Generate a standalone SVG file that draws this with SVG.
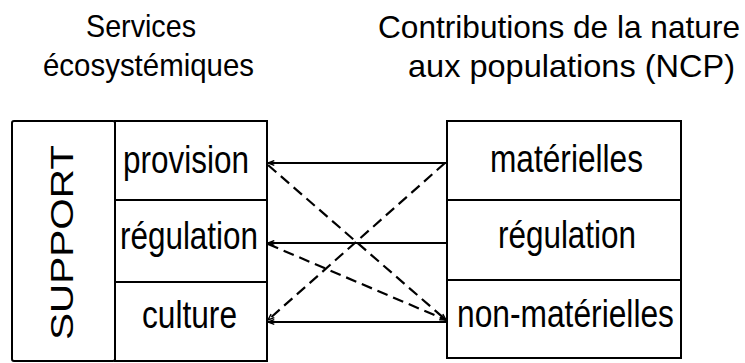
<svg xmlns="http://www.w3.org/2000/svg" width="745" height="363" viewBox="0 0 745 363">
<defs>
<style>
text{font-family:"Liberation Sans",Arial,sans-serif;fill:#000}
.t{font-size:32px}
.n{font-size:38px}
.box{fill:#fff;stroke:#000;stroke-width:2}
.c{stroke:#000;stroke-width:2;fill:none}
.d{stroke-dasharray:11 6;stroke-width:2.2}
</style>
<marker id="ah" viewBox="0 0 10 10" refX="10" refY="5" markerWidth="7" markerHeight="7" markerUnits="userSpaceOnUse" orient="auto">
<path d="M1,1.5 L10,5 L1,8.5" fill="none" stroke="#000" stroke-width="2"/>
</marker>
</defs>
<rect width="745" height="363" fill="#fff"/>
<g id="titles">
<text class="t" x="86" y="37" textLength="110" lengthAdjust="spacingAndGlyphs">Services</text>
<text class="t" x="43" y="76" textLength="211" lengthAdjust="spacingAndGlyphs">écosystémiques</text>
<text class="t" x="378" y="38" textLength="362" lengthAdjust="spacingAndGlyphs">Contributions de la nature</text>
<text class="t" x="408" y="77" textLength="327" lengthAdjust="spacingAndGlyphs">aux populations (NCP)</text>
</g>
<g id="support">
<rect class="box" x="12" y="121" width="103" height="240" rx="2"/>
<text class="n" transform="translate(73,340) rotate(-90)" x="0" y="0" style="font-size:32px" textLength="195" lengthAdjust="spacingAndGlyphs">SUPPORT</text>
</g>
<g id="es-provision">
<rect class="box" x="115" y="121" width="152" height="79"/>
<text class="n" x="123" y="173" textLength="126" lengthAdjust="spacingAndGlyphs">provision</text>
</g>
<g id="es-regulation">
<rect class="box" x="115" y="200" width="152" height="82"/>
<text class="n" x="120" y="249" textLength="138" lengthAdjust="spacingAndGlyphs">régulation</text>
</g>
<g id="es-culture">
<rect class="box" x="115" y="282" width="152" height="79"/>
<text class="n" x="142" y="328" textLength="95" lengthAdjust="spacingAndGlyphs">culture</text>
</g>
<g id="ncp-materielles">
<rect class="box" x="447" y="121" width="234" height="79"/>
<text class="n" x="490" y="172" textLength="153" lengthAdjust="spacingAndGlyphs">matérielles</text>
</g>
<g id="ncp-regulation">
<rect class="box" x="447" y="200" width="234" height="80"/>
<text class="n" x="498" y="248" textLength="138" lengthAdjust="spacingAndGlyphs">régulation</text>
</g>
<g id="ncp-nonmaterielles">
<rect class="box" x="447" y="280" width="234" height="78"/>
<text class="n" x="457" y="327" textLength="217" lengthAdjust="spacingAndGlyphs">non-matérielles</text>
</g>
<g id="connectors">
<line class="c" x1="447" y1="163" x2="268" y2="163" marker-end="url(#ah)"/>
<line class="c" x1="447" y1="243" x2="268" y2="243" marker-end="url(#ah)"/>
<line class="c" x1="447" y1="322" x2="268" y2="322" marker-end="url(#ah)"/>
<line class="c d" x1="268" y1="165" x2="446" y2="320" marker-end="url(#ah)"/>
<line class="c d" x1="268" y1="244" x2="446" y2="320" marker-end="url(#ah)"/>
<line class="c d" x1="445" y1="163" x2="268" y2="320" marker-end="url(#ah)"/>
</g>
</svg>
